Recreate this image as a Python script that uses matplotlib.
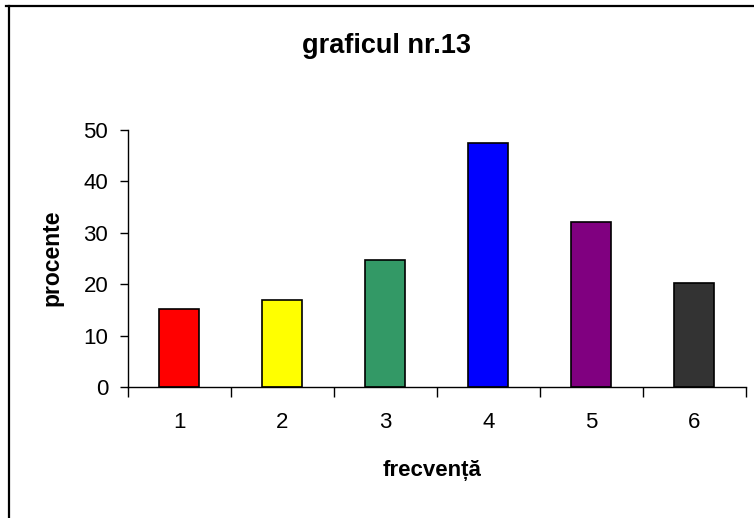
import matplotlib.pyplot as plt
from matplotlib.lines import Line2D

plt.rcParams['font.family'] = ['Liberation Sans', 'DejaVu Sans']

categories = ['1', '2', '3', '4', '5', '6']
values = [15.3, 17.0, 24.7, 47.5, 32.2, 20.3]
colors = ['#FF0000', '#FFFF00', '#339966', '#0000FF', '#800080', '#333333']

fig = plt.figure(figsize=(7.54, 5.18), dpi=100)
ax = fig.add_axes([127.7 / 754, 130.7 / 518, 618 / 754, 257.3 / 518])

x = list(range(len(categories)))
ax.bar(x, values, width=0.39, color=colors, edgecolor='black', linewidth=1.2)

ax.set_xlim(-0.5, len(categories) - 0.5)
ax.set_ylim(0, 50)
ax.set_yticks([0, 10, 20, 30, 40, 50])
ax.tick_params(axis='y', direction='out', length=6, width=1, pad=8, labelsize=16)

# category boundaries get the tick marks, labels sit at the centres
ax.set_xticks([i - 0.5 for i in range(len(categories) + 1)])
ax.set_xticklabels([])
ax.set_xticks(x, minor=True)
ax.set_xticklabels(categories, minor=True)
ax.tick_params(axis='x', which='major', direction='out', length=7, width=1)
ax.tick_params(axis='x', which='minor', length=0, pad=18, labelsize=16)

for side in ['top', 'right']:
    ax.spines[side].set_visible(False)
for side in ['left', 'bottom']:
    ax.spines[side].set_linewidth(1.0)

fig.text(386.5 / 754, (518 - 53) / 518, 'graficul nr.13', ha='center', va='baseline',
         fontsize=19.5, fontweight='bold')
fig.text(432 / 754, (518 - 476) / 518, 'frecvență', ha='center', va='baseline',
         fontsize=16, fontweight='bold')
fig.text(52 / 754, 260 / 518, 'procente', ha='center', va='center', rotation=90,
         fontsize=16.5, fontweight='bold')

# chart area frame (only top and left edges show in the picture)
fig.add_artist(Line2D([6 / 754, 1], [1 - 6.2 / 518, 1 - 6.2 / 518], color='black',
                      linewidth=1.6, transform=fig.transFigure))
fig.add_artist(Line2D([9.2 / 754, 9.2 / 754], [0, 1 - 6.2 / 518], color='black',
                      linewidth=1.6, transform=fig.transFigure))

plt.savefig('out.png', dpi=100)
